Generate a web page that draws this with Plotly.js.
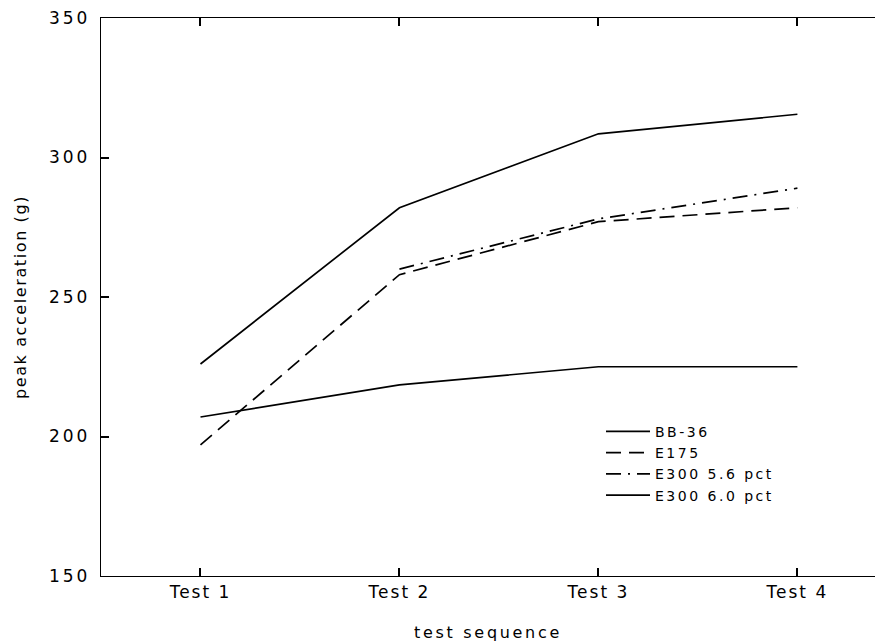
<!DOCTYPE html>
<html>
<head>
<meta charset="utf-8">
<script src="https://cdn.plot.ly/plotly-3.0.1.min.js"></script>
<style>
html,body{margin:0;padding:0;background:#fff;}
#chart{width:875px;height:644px;}
.xtick text { letter-spacing: 2px; }
.ytick text { letter-spacing: 3px; }
.ytitle { letter-spacing: 1.6px; }
.xtitle { letter-spacing: 2.7px; }
.legendtext { letter-spacing: 2.5px; }
</style>
</head>
<body>
<div id="chart"></div>
<script>
var categories = ["Test 1", "Test 2", "Test 3", "Test 4"];
var seriesNames = ["BB-36", "E175", "E300 5.6 pct", "E300 6.0 pct"];
var bb36 = [226, 282, 308.5, 315.5];
var e175 = [197, 258, 277, 282];
var e300_56 = [null, 260, 278, 289];
var e300_60 = [207, 218.5, 225, 225];
var yTicks = [150, 200, 250, 300, 350];

var dashes = ["solid", "15px,8px", "15px,7px,2px,7px", "solid"];
var values = [bb36, e175, e300_56, e300_60];
var traces = values.map(function (v, i) {
  return {
    x: categories, y: v, name: seriesNames[i], type: "scatter", mode: "lines",
    connectgaps: false,
    line: {color: "#000", width: 1.7, dash: dashes[i]}
  };
});

var fam = "DejaVu Sans, Liberation Sans, sans-serif";
var layout = {
  width: 875, height: 644,
  margin: {l: 101, r: 0, t: 18, b: 68},
  paper_bgcolor: "#fff", plot_bgcolor: "#fff",
  font: {family: fam, size: 14, color: "#000"},
  showlegend: true,
  legend: {x: 0.646, y: 0.287, xanchor: "left", yanchor: "top",
           bgcolor: "rgba(0,0,0,0)", borderwidth: 0, itemwidth: 44,
           font: {family: fam, size: 14, color: "#000"}},
  xaxis: {
    type: "category", range: [-0.5, 3.39],
    showgrid: false, zeroline: false,
    showline: true, linecolor: "#000", linewidth: 1.4, mirror: "ticks",
    ticks: "inside", ticklen: 8, tickwidth: 2, tickcolor: "#000",
    tickfont: {family: fam, size: 17, color: "#000"},
    title: {text: "test sequence", font: {family: fam, size: 16, color: "#000"}, standoff: 26}
  },
  yaxis: {
    range: [150, 350], tickvals: yTicks,
    showgrid: false, zeroline: false,
    showline: true, linecolor: "#000", linewidth: 1.4, mirror: false,
    ticks: "inside", ticklen: 8, tickwidth: 2, tickcolor: "#000",
    ticklabelstandoff: 6,
    tickfont: {family: fam, size: 17, color: "#000"},
    title: {text: "peak acceleration (g)", font: {family: fam, size: 16, color: "#000"}, standoff: 18}
  }
};
Plotly.newPlot("chart", traces, layout, {displayModeBar: false});
</script>
</body>
</html>
